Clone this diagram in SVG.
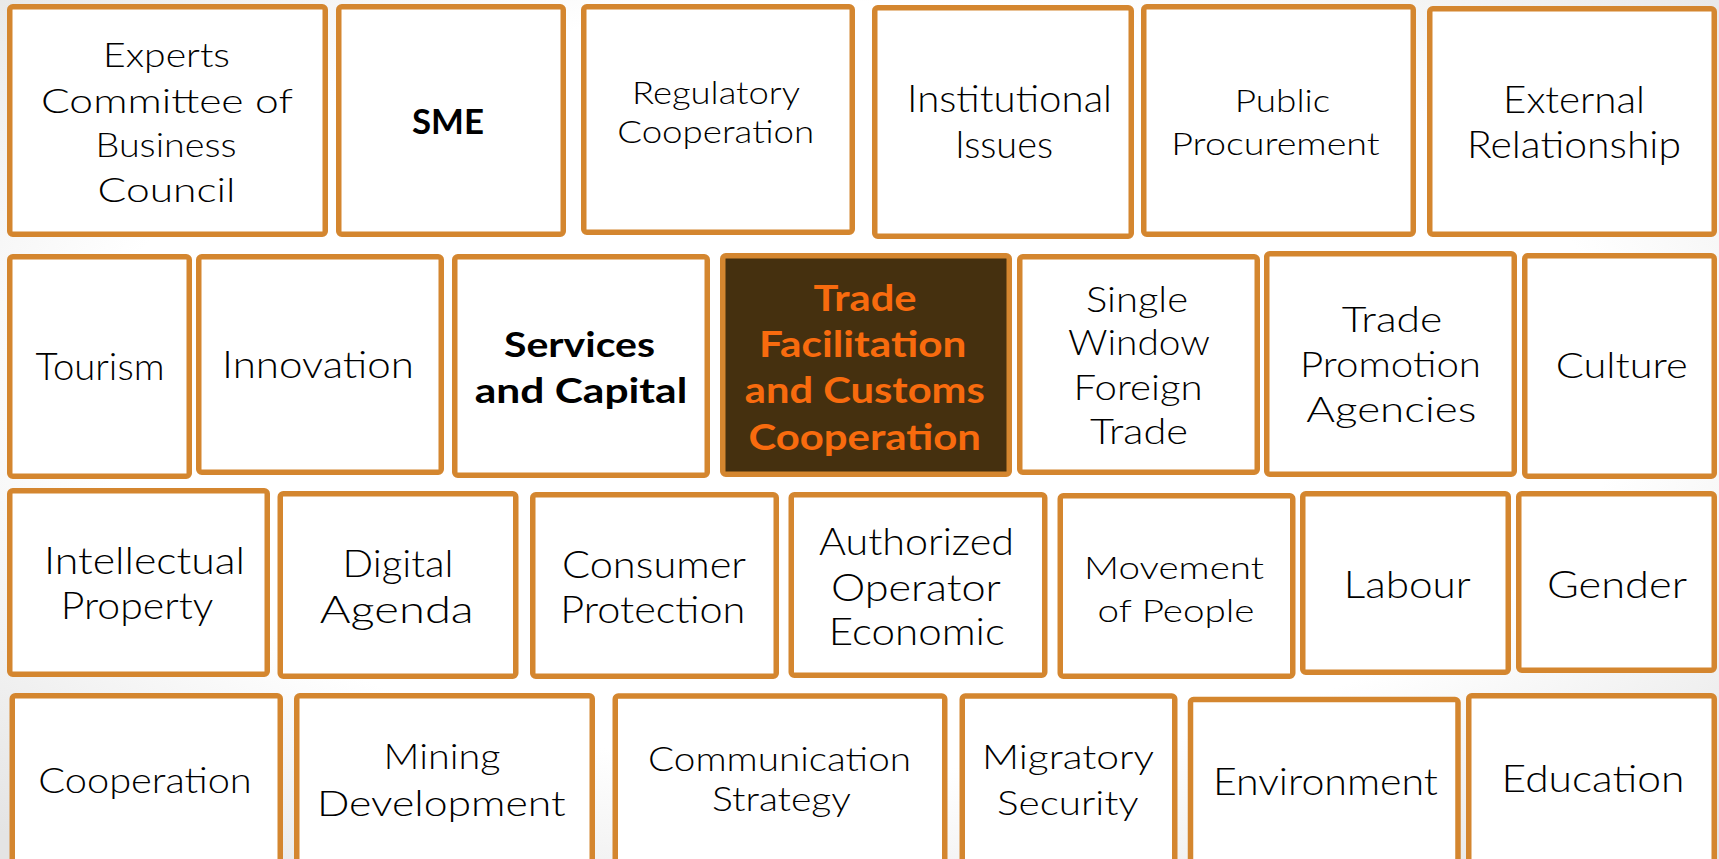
<svg xmlns="http://www.w3.org/2000/svg" width="1719" height="859" viewBox="0 0 1719 859">
<defs>
<radialGradient id="bg" cx="50%" cy="45%" r="72%">
<stop offset="0.62" stop-color="#FFFFFF"/>
<stop offset="1" stop-color="#E4E4E4"/>
</radialGradient>
<style>
.box{fill:#FFFFFF;stroke:#D4862F;stroke-width:5.5}
.dark{fill:#45300F}
.t{font-family:Lato,"Open Sans","DejaVu Sans",sans-serif;font-weight:300;fill:#000000;text-anchor:middle}
.b{font-weight:700}
.o{fill:#F86B0E}
</style>
</defs>
<rect x="0" y="0" width="1719" height="859" fill="url(#bg)"/>
<g id="connectors"/>

<g id="n-experts">
<rect class="box" x="9.75" y="6.75" width="315.5" height="227.5" rx="3"/>
<g class="t" font-size="32.5">
<text x="166.5" y="67" textLength="127" lengthAdjust="spacingAndGlyphs">Experts</text>
<text x="167" y="113" textLength="252" lengthAdjust="spacingAndGlyphs">Committee of</text>
<text x="166" y="157" textLength="141" lengthAdjust="spacingAndGlyphs">Business</text>
<text x="166.5" y="202" textLength="138" lengthAdjust="spacingAndGlyphs">Council</text>
</g>
</g>

<g id="n-sme">
<rect class="box" x="338.75" y="6.75" width="224.5" height="227.5" rx="3"/>
<text class="t b" font-size="33.5" x="448" y="134" textLength="72" lengthAdjust="spacingAndGlyphs">SME</text>
</g>

<g id="n-regulatory">
<rect class="box" x="583.75" y="6.75" width="268.5" height="225.5" rx="3"/>
<g class="t" font-size="31">
<text x="716" y="104" textLength="168" lengthAdjust="spacingAndGlyphs">Regulatory</text>
<text x="715.7" y="143" textLength="197" lengthAdjust="spacingAndGlyphs">Cooperation</text>
</g>
</g>

<g id="n-institutional">
<rect class="box" x="874.75" y="7.75" width="256.5" height="228.5" rx="3"/>
<g class="t" font-size="37.5">
<text x="1009.5" y="112" textLength="205" lengthAdjust="spacingAndGlyphs">Institutional</text>
<text x="1004" y="158" textLength="98" lengthAdjust="spacingAndGlyphs">Issues</text>
</g>
</g>

<g id="n-procurement">
<rect class="box" x="1143.75" y="6.75" width="269.5" height="227.5" rx="3"/>
<g class="t" font-size="30.5">
<text x="1282.5" y="112" textLength="95.5" lengthAdjust="spacingAndGlyphs">Public</text>
<text x="1275.5" y="155" textLength="208.5" lengthAdjust="spacingAndGlyphs">Procurement</text>
</g>
</g>

<g id="n-external">
<rect class="box" x="1429.75" y="8.75" width="284.5" height="225.5" rx="3"/>
<g class="t" font-size="37">
<text x="1574" y="113" textLength="142" lengthAdjust="spacingAndGlyphs">External</text>
<text x="1574" y="158" textLength="214" lengthAdjust="spacingAndGlyphs">Relationship</text>
</g>
</g>

<g id="n-tourism">
<rect class="box" x="9.75" y="256.75" width="179.5" height="219.5" rx="3"/>
<text class="t" font-size="37" x="100" y="380" textLength="129" lengthAdjust="spacingAndGlyphs">Tourism</text>
</g>

<g id="n-innovation">
<rect class="box" x="198.75" y="256.75" width="242.5" height="215.5" rx="3"/>
<text class="t" font-size="37" x="318" y="378" textLength="192" lengthAdjust="spacingAndGlyphs">Innovation</text>
</g>

<g id="n-services">
<rect class="box" x="454.75" y="256.75" width="252.5" height="218.5" rx="3"/>
<g class="t b" font-size="35">
<text x="579.5" y="357" textLength="151" lengthAdjust="spacingAndGlyphs">Services</text>
<text x="581" y="403" textLength="212.5" lengthAdjust="spacingAndGlyphs">and Capital</text>
</g>
</g>

<g id="n-tradefacilitation">
<rect class="box dark" x="722.75" y="255.75" width="286.5" height="218.5" rx="3"/>
<g class="t b o" font-size="36">
<text x="865" y="310.7" textLength="103" lengthAdjust="spacingAndGlyphs">Trade</text>
<text x="862.7" y="356.7" textLength="207.5" lengthAdjust="spacingAndGlyphs">Facilitation</text>
<text x="864.8" y="402.7" textLength="240" lengthAdjust="spacingAndGlyphs">and Customs</text>
<text x="864.7" y="449.5" textLength="232.6" lengthAdjust="spacingAndGlyphs">Cooperation</text>
</g>
</g>

<g id="n-singlewindow">
<rect class="box" x="1019.75" y="256.75" width="237.5" height="215.5" rx="3"/>
<g class="t" font-size="35">
<text x="1137" y="311.7" textLength="102" lengthAdjust="spacingAndGlyphs">Single</text>
<text x="1139" y="355" textLength="142" lengthAdjust="spacingAndGlyphs">Window</text>
<text x="1138" y="400" textLength="129" lengthAdjust="spacingAndGlyphs">Foreign</text>
<text x="1139" y="444" textLength="98" lengthAdjust="spacingAndGlyphs">Trade</text>
</g>
</g>

<g id="n-tradepromotion">
<rect class="box" x="1266.75" y="253.75" width="247.5" height="220.5" rx="3"/>
<g class="t" font-size="36">
<text x="1392" y="331.7" textLength="100.5" lengthAdjust="spacingAndGlyphs">Trade</text>
<text x="1390.5" y="377.3" textLength="181" lengthAdjust="spacingAndGlyphs">Promotion</text>
<text x="1391.3" y="421.7" textLength="170" lengthAdjust="spacingAndGlyphs">Agencies</text>
</g>
</g>

<g id="n-culture">
<rect class="box" x="1524.75" y="255.75" width="189.5" height="220.5" rx="3"/>
<text class="t" font-size="35" x="1621.7" y="378" textLength="132" lengthAdjust="spacingAndGlyphs">Culture</text>
</g>

<g id="n-intellectual">
<rect class="box" x="9.75" y="490.75" width="257.5" height="183.5" rx="3"/>
<g class="t" font-size="38">
<text x="144.5" y="574" textLength="201" lengthAdjust="spacingAndGlyphs">Intellectual</text>
<text x="137" y="619.3" textLength="152.5" lengthAdjust="spacingAndGlyphs">Property</text>
</g>
</g>

<g id="n-digital">
<rect class="box" x="280.25" y="493.75" width="235.5" height="182.5" rx="3"/>
<g class="t" font-size="37">
<text x="398" y="576.7" textLength="111" lengthAdjust="spacingAndGlyphs">Digital</text>
<text x="396.7" y="623.3" textLength="154" lengthAdjust="spacingAndGlyphs">Agenda</text>
</g>
</g>

<g id="n-consumer">
<rect class="box" x="532.75" y="494.75" width="243.5" height="181.5" rx="3"/>
<g class="t" font-size="37">
<text x="654" y="578" textLength="184" lengthAdjust="spacingAndGlyphs">Consumer</text>
<text x="652.8" y="623" textLength="185" lengthAdjust="spacingAndGlyphs">Protection</text>
</g>
</g>

<g id="n-authorized">
<rect class="box" x="791.25" y="494.75" width="253.5" height="180.5" rx="3"/>
<g class="t" font-size="37">
<text x="916.5" y="555" textLength="195" lengthAdjust="spacingAndGlyphs">Authorized</text>
<text x="915.9" y="600.7" textLength="170" lengthAdjust="spacingAndGlyphs">Operator</text>
<text x="916.8" y="645" textLength="176" lengthAdjust="spacingAndGlyphs">Economic</text>
</g>
</g>

<g id="n-movement">
<rect class="box" x="1060.25" y="495.75" width="232.5" height="180.5" rx="3"/>
<g class="t" font-size="31">
<text x="1174" y="579.3" textLength="180" lengthAdjust="spacingAndGlyphs">Movement</text>
<text x="1176" y="621.7" textLength="157" lengthAdjust="spacingAndGlyphs">of People</text>
</g>
</g>

<g id="n-labour">
<rect class="box" x="1302.75" y="493.75" width="205.5" height="178.5" rx="3"/>
<text class="t" font-size="37" x="1407.3" y="598.3" textLength="127" lengthAdjust="spacingAndGlyphs">Labour</text>
</g>

<g id="n-gender">
<rect class="box" x="1518.75" y="493.75" width="195.5" height="176.5" rx="3"/>
<text class="t" font-size="37" x="1617" y="598.3" textLength="140" lengthAdjust="spacingAndGlyphs">Gender</text>
</g>

<g id="n-cooperation">
<rect class="box" x="12.25" y="695.75" width="268" height="180" rx="3"/>
<text class="t" font-size="35" x="145" y="792.7" textLength="213.5" lengthAdjust="spacingAndGlyphs">Cooperation</text>
</g>

<g id="n-mining">
<rect class="box" x="296.75" y="695.75" width="295.5" height="180" rx="3"/>
<g class="t" font-size="36">
<text x="442" y="769.3" textLength="117" lengthAdjust="spacingAndGlyphs">Mining</text>
<text x="441.3" y="816" textLength="248.8" lengthAdjust="spacingAndGlyphs">Development</text>
</g>
</g>

<g id="n-communication">
<rect class="box" x="615.25" y="696" width="329.5" height="180" rx="3"/>
<g class="t" font-size="33.5">
<text x="779.5" y="770.7" textLength="263" lengthAdjust="spacingAndGlyphs">Communication</text>
<text x="781.5" y="810.7" textLength="139" lengthAdjust="spacingAndGlyphs">Strategy</text>
</g>
</g>

<g id="n-migratory">
<rect class="box" x="962.25" y="696" width="212.5" height="180" rx="3"/>
<g class="t" font-size="34">
<text x="1068" y="769.3" textLength="172" lengthAdjust="spacingAndGlyphs">Migratory</text>
<text x="1067.8" y="815" textLength="141.6" lengthAdjust="spacingAndGlyphs">Security</text>
</g>
</g>

<g id="n-environment">
<rect class="box" x="1190.5" y="699.5" width="267.5" height="180" rx="3"/>
<text class="t" font-size="38" x="1325.4" y="795" textLength="225" lengthAdjust="spacingAndGlyphs">Environment</text>
</g>

<g id="n-education">
<rect class="box" x="1468.75" y="695.75" width="245.5" height="180" rx="3"/>
<text class="t" font-size="37" x="1593" y="791.7" textLength="183" lengthAdjust="spacingAndGlyphs">Education</text>
</g>
</svg>
